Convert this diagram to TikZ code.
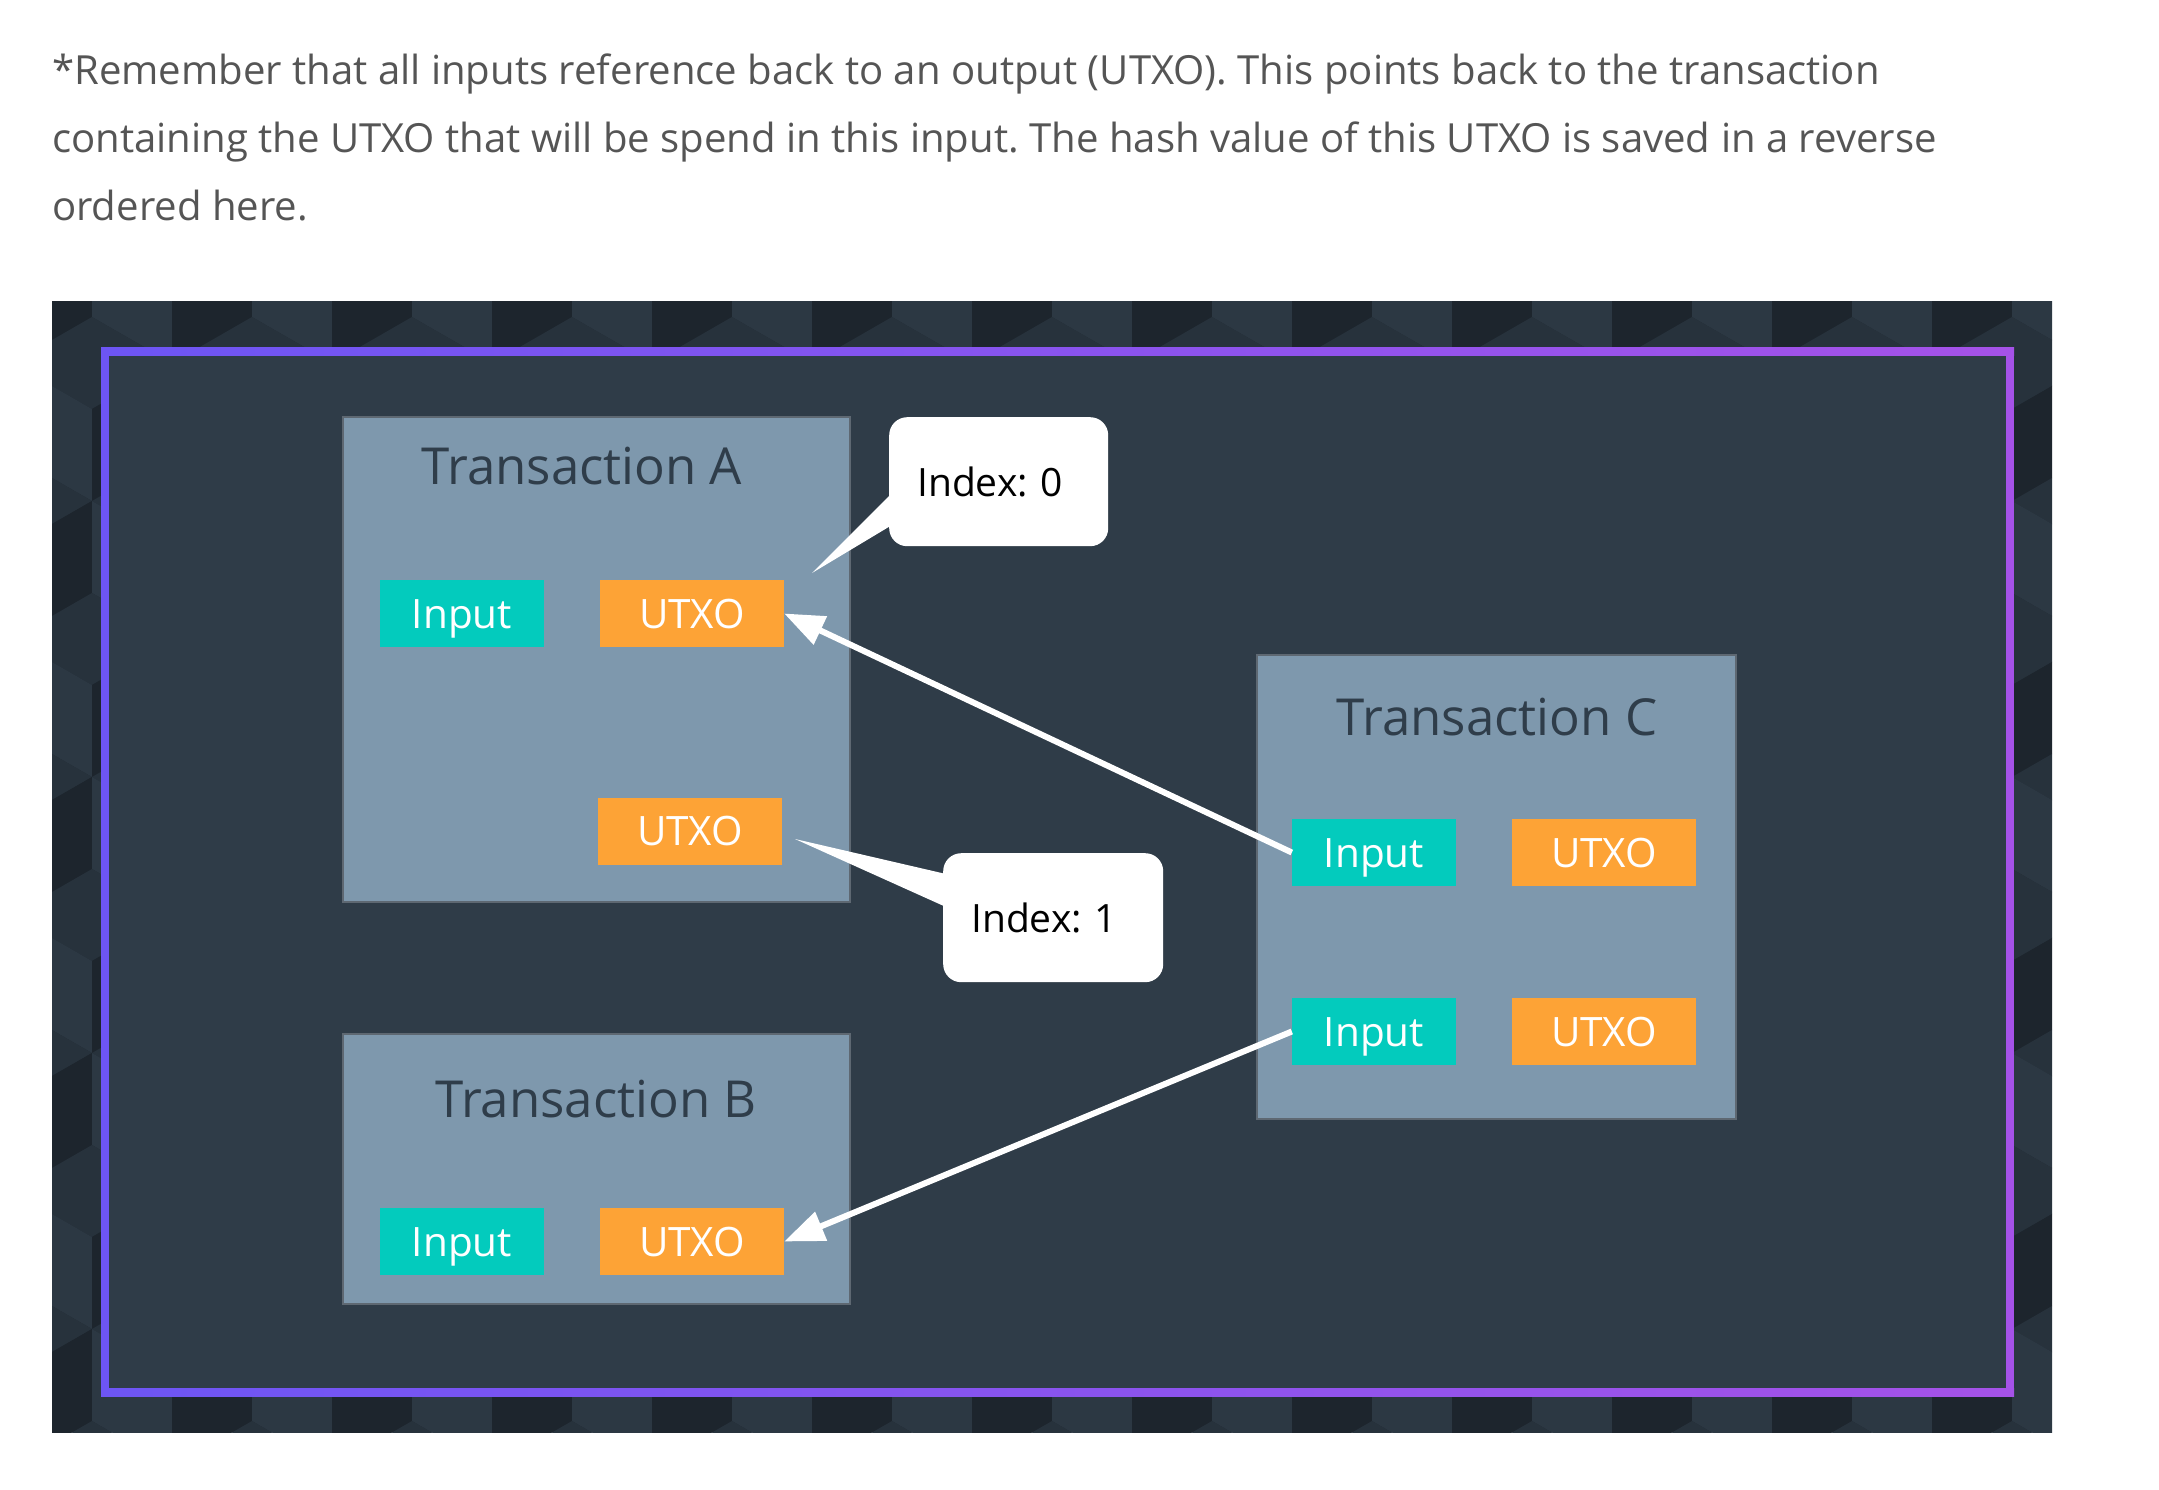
\documentclass[tikz,border=0pt]{standalone}
\usepackage{fontspec}
\setmainfont{Open Sans}
\usetikzlibrary{arrows.meta,calc}
\definecolor{paratext}{HTML}{555555}
\definecolor{panelbg}{HTML}{1F2831}
\definecolor{cubetop}{HTML}{27323C}
\definecolor{cubeleft}{HTML}{2C3843}
\definecolor{cuberight}{HTML}{1D252D}
\definecolor{innerbg}{HTML}{2F3C48}
\definecolor{purpleL}{HTML}{6D55F4}
\definecolor{purpleR}{HTML}{A552E8}
\definecolor{txfill}{HTML}{7E98AD}
\definecolor{txborder}{HTML}{5E6872}
\definecolor{txtitle}{HTML}{2F3D4A}
\definecolor{tealbox}{HTML}{03CBBD}
\definecolor{orangebox}{HTML}{FDA336}
\frenchspacing
\begin{document}
\begin{tikzpicture}[x=1pt,y=-1pt,
  para/.style={anchor=base west, inner sep=0pt, text=paratext, font=\fontsize{40.1}{45}\selectfont},
  txbox/.style={draw=txborder, line width=2pt, fill=txfill, inner sep=0pt},
  txlabel/.style={anchor=base, inner sep=0pt, text=txtitle, font=\fontsize{51}{51}\selectfont},
  inbox/.style={fill=tealbox, text=white, minimum width=164pt, minimum height=67pt, inner sep=0pt,
    font=\fontsize{40.5}{40}\selectfont, text height=29pt, text depth=0pt},
  utxobox/.style={fill=orangebox, text=white, minimum width=184pt, minimum height=67pt, inner sep=0pt,
    font=\fontsize{40.5}{40}\selectfont, text height=29pt, text depth=0pt},
  callout/.style={fill=white, rounded corners=18pt, anchor=north west, minimum height=129pt,
    align=left, inner xsep=28pt, inner ysep=0pt, text=black,
    font=\fontsize{39}{39}\selectfont, text height=29pt, text depth=0pt},
  flow/.style={draw=white, line width=6pt, -{Triangle[length=40pt,width=30pt]}}
]
\useasboundingbox (0,0) rectangle (2159,1490);
\fill[white] (0,0) rectangle (2159,1490);

% paragraph
\node[para] (p1) at (52,85) {*Remember that all inputs reference back to an output (UTXO). This points back to the transaction};
\node[para] (p2) at (52,153) {containing the UTXO that will be spend in this input. The hash value of this UTXO is saved in a reverse};
\node[para] (p3) at (52,220) {ordered here.};

% dark panel with cube pattern
\begin{scope}
  \clip (52,301) rectangle (2052,1432);
  \fill[panelbg] (52,301) rectangle (2052,1432);
  \foreach \r in {0,...,9} {
    \foreach \c in {0,...,13} {
      \pgfmathsetmacro\cx{52 + \c*160 + mod(\r,2)*80 - 40}
      \pgfmathsetmacro\cy{301 + \r*138 - 30}
      \fill[cubetop] (\cx,\cy-92) -- (\cx+80,\cy-46) -- (\cx,\cy) -- (\cx-80,\cy-46) -- cycle;
      \fill[cubeleft] (\cx-80,\cy-46) -- (\cx,\cy) -- (\cx,\cy+92) -- (\cx-80,\cy+46) -- cycle;
      \fill[cuberight] (\cx,\cy) -- (\cx+80,\cy-46) -- (\cx+80,\cy+46) -- (\cx,\cy+92) -- cycle;
    }
  }
\end{scope}

% purple frame and inner area
\fill[innerbg] (109,355) rectangle (2006,1388);
\shade[left color=purpleL, right color=purpleR] (101,347) rectangle (2014,355);
\shade[left color=purpleL, right color=purpleR] (101,1388) rectangle (2014,1396);
\fill[purpleL] (101,347) rectangle (109,1396);
\fill[purpleR] (2006,347) rectangle (2014,1396);

% transaction boxes
\node[txbox, minimum width=507pt, minimum height=485pt] (txA) at (596.5,659.5) {};
\node[txbox, minimum width=507pt, minimum height=270pt] (txB) at (596.5,1169) {};
\node[txbox, minimum width=479pt, minimum height=464pt] (txC) at (1496.5,887) {};

\node[txlabel] (tA) at (582,484) {Transaction A};
\node[txlabel] (tB) at (596,1117) {Transaction B};
\node[txlabel] (tC) at (1497,735) {Transaction C};

% inputs and outputs
\node[inbox] (inA) at (462,613.5) {Input};
\node[utxobox] (uA0) at (692,613.5) {UTXO};
\node[utxobox] (uA1) at (690,831) {UTXO};
\node[inbox] (inB) at (462,1241.5) {Input};
\node[utxobox] (uB) at (692,1241.5) {UTXO};
\node[inbox] (inC1) at (1374,852.5) {Input};
\node[utxobox] (uC1) at (1604,852.5) {UTXO};
\node[inbox] (inC2) at (1374,1031.5) {Input};
\node[utxobox] (uC2) at (1604,1031.5) {UTXO};

% callouts
\node[callout, text width=163pt] (idx0) at (889,417) {Index: 0};
\coordinate (tip0) at (812,573);
\fill[white] ($(idx0.north west)+(3,76)$) -- (tip0) -- ($(idx0.north west)+(3,108)$) -- cycle;

\node[callout, text width=164pt] (idx1) at (943,853) {Index: 1};
\coordinate (tip1) at (795,839);
\fill[white] ($(idx1.north west)+(3,21)$) -- (tip1) -- ($(idx1.north west)+(3,54)$) -- cycle;

% references
\draw[flow] (inC1.west) -- (uA0.east);
\draw[flow] (inC2.west) -- (uB.east);
\end{tikzpicture}
\end{document}
